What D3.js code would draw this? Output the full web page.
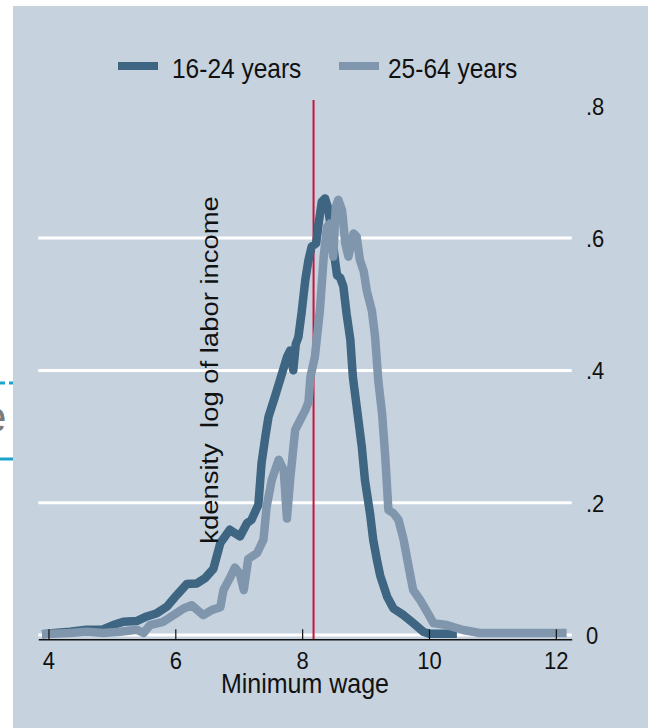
<!DOCTYPE html>
<html>
<head>
<meta charset="utf-8">
<script src="https://cdn.jsdelivr.net/npm/d3@7"></script>
<style>
  html, body { margin: 0; padding: 0; background: #ffffff; }
  svg { display: block; }
  text { font-family: "Liberation Sans", Arial, sans-serif; fill: #111; }
</style>
</head>
<body>
<svg id="chart" width="648" height="728"></svg>
<script>
// ---------- data ----------
const seriesNames = ["16-24 years", "25-64 years"];
const seriesColors = ["#3e6581", "#8096ad"];

const youth = [
  [3.9,0.001],[4.1,0.003],[4.34,0.005],[4.6,0.008],[4.85,0.008],[5.02,0.015],[5.18,0.02],
  [5.39,0.021],[5.55,0.028],[5.71,0.033],[5.87,0.043],[6.02,0.06],[6.18,0.077],[6.34,0.078],
  [6.47,0.086],[6.6,0.1],[6.71,0.139],[6.86,0.159],[7.02,0.149],[7.13,0.169],[7.2,0.174],
  [7.31,0.197],[7.36,0.26],[7.42,0.3],[7.47,0.33],[7.57,0.36],[7.65,0.385],[7.76,0.42],
  [7.81,0.43],[7.86,0.40],[7.9,0.44],[7.94,0.45],[7.99,0.486],[8.05,0.537],[8.1,0.567],
  [8.15,0.587],[8.22,0.592],[8.26,0.622],[8.31,0.655],[8.36,0.66],[8.41,0.645],[8.47,0.605],
  [8.52,0.565],[8.55,0.544],[8.6,0.54],[8.65,0.527],[8.7,0.486],[8.76,0.446],[8.8,0.39],
  [8.86,0.345],[8.94,0.285],[8.99,0.234],[9.07,0.184],[9.12,0.144],[9.18,0.113],[9.23,0.09],
  [9.34,0.058],[9.44,0.04],[9.6,0.03],[9.75,0.018],[9.91,0.005],[10.0,0.002],[10.44,0.002]
];

const adults = [
  [3.9,0.001],[4.34,0.003],[4.6,0.005],[4.87,0.003],[5.13,0.005],[5.39,0.008],[5.5,0.003],
  [5.6,0.015],[5.81,0.02],[6.02,0.033],[6.13,0.04],[6.26,0.045],[6.44,0.03],[6.58,0.038],
  [6.71,0.042],[6.76,0.068],[6.86,0.086],[6.94,0.102],[7.02,0.092],[7.08,0.068],[7.15,0.115],
  [7.29,0.124],[7.39,0.144],[7.44,0.194],[7.52,0.234],[7.63,0.265],[7.71,0.249],[7.76,0.176],
  [7.81,0.234],[7.89,0.31],[7.97,0.325],[8.05,0.34],[8.1,0.352],[8.13,0.39],[8.2,0.42],
  [8.28,0.491],[8.34,0.572],[8.39,0.617],[8.44,0.622],[8.49,0.572],[8.53,0.647],[8.57,0.658],
  [8.63,0.642],[8.68,0.592],[8.73,0.572],[8.81,0.607],[8.86,0.602],[8.91,0.567],[8.97,0.55],
  [9.02,0.52],[9.1,0.49],[9.15,0.451],[9.2,0.385],[9.26,0.335],[9.31,0.27],[9.36,0.189],
  [9.44,0.184],[9.52,0.174],[9.6,0.144],[9.68,0.103],[9.75,0.068],[9.86,0.053],[9.97,0.035],
  [10.07,0.018],[10.28,0.015],[10.54,0.0075],[10.8,0.003],[12.17,0.003]
];

const minimumWage = 8.18;
const xTicks = [4, 6, 8, 10, 12];
const yTicks = [0, 0.2, 0.4, 0.6, 0.8];
const yTickLabels = ["0", ".2", ".4", ".6", ".8"];
const gridValues = [0, 0.2, 0.4, 0.6];
const xTitle = "Minimum wage";
const yTitle = "kdensity  log of labor income";

// ---------- drawing ----------
const svg = d3.select("#chart");
const bg = "#c6d3df";
const font = "'Liberation Sans', Arial, sans-serif";

// stray page fragments at the left edge
svg.append("rect").attr("x", 0).attr("y", 0).attr("width", 648).attr("height", 728).attr("fill", "#ffffff");
svg.append("line").attr("x1", 0).attr("x2", 14).attr("y1", 383).attr("y2", 383)
  .attr("stroke", "#1ba3c9").attr("stroke-width", 3).attr("stroke-dasharray", "5,4");
svg.append("line").attr("x1", 0).attr("x2", 14).attr("y1", 459).attr("y2", 459)
  .attr("stroke", "#1ba3c9").attr("stroke-width", 3);
svg.append("text").attr("x", -18).attr("y", 432).attr("font-size", 44)
  .style("fill", "#7a7a7a").text("e");

// panel
svg.append("rect").attr("x", 13).attr("y", 6).attr("width", 635).attr("height", 722).attr("fill", bg);

const x = d3.scaleLinear().domain([3.84, 12.25]).range([38.3, 571.7]);
const y = d3.scaleLinear().domain([0, 0.8]).range([635, 105.8]);

// gridlines
svg.append("g").selectAll("line").data(gridValues).join("line")
  .attr("x1", x.range()[0]).attr("x2", x.range()[1])
  .attr("y1", d => y(d)).attr("y2", d => y(d))
  .attr("stroke", "#ffffff").attr("stroke-width", 3);

// y axis labels (right side, no line)
const yAxis = d3.axisRight(y).tickValues(yTicks).tickSize(0)
  .tickFormat((d, i) => yTickLabels[i]);
const gy = svg.append("g").attr("transform", "translate(586,0)").call(yAxis);
gy.select(".domain").remove();
gy.selectAll("text").attr("x", 0).attr("dy", null).attr("y", 0)
  .attr("transform", "translate(0,8.5) scale(1,1.1)")
  .style("font-family", font).style("font-size", "22px").attr("fill", "#111")
  .attr("text-anchor", "start");

// red reference line
svg.append("line").attr("x1", x(minimumWage)).attr("x2", x(minimumWage))
  .attr("y1", 100).attr("y2", 639.3).attr("stroke", "#c8143c").attr("stroke-width", 2);

// density curves
const line = d3.line().x(d => x(d[0])).y(d => y(d[1])).curve(d3.curveLinear);
[youth, adults].forEach((s, i) => {
  svg.append("path").datum(s).attr("d", line)
    .attr("fill", "none").attr("stroke", seriesColors[i]).attr("stroke-width", 8.5)
    .attr("stroke-linejoin", "round").attr("stroke-linecap", "butt");
});

// x axis
const xAxis = d3.axisBottom(x).tickValues(xTicks).tickSizeInner(-10).tickSizeOuter(0).tickPadding(0)
  .tickFormat(d3.format("d"));
const gx = svg.append("g").attr("transform", "translate(0,639.3)").call(xAxis);
gx.select(".domain").attr("stroke", "#111").attr("stroke-width", 1.5);
gx.selectAll(".tick line").attr("stroke", "#111").attr("stroke-width", 1.2);
gx.selectAll(".tick text").attr("y", 0).attr("dy", null)
  .attr("transform", "translate(0,30) scale(1,1.1)")
  .style("font-family", font).style("font-size", "22px").attr("fill", "#111");

// x title
svg.append("text").attr("transform", "translate(305,693) scale(1,1.1)")
  .attr("text-anchor", "middle").attr("font-size", 25).text(xTitle);

// y title (inside plot)
svg.append("text").attr("transform", "translate(218,370) scale(1,1.12) rotate(-90)")
  .attr("text-anchor", "middle").attr("font-size", 24.5).style("white-space", "pre")
  .attr("xml:space", "preserve").text(yTitle);

// legend
const legendX = [118, 339];
const legendTextX = [172, 388];
seriesNames.forEach((n, i) => {
  svg.append("rect").attr("x", legendX[i]).attr("y", 62).attr("width", 40).attr("height", 8)
    .attr("fill", seriesColors[i]);
  svg.append("text").attr("transform", `translate(${legendTextX[i]},77.5) scale(1,1.1)`)
    .attr("font-size", 24.5).text(n);
});
</script>
</body>
</html>
